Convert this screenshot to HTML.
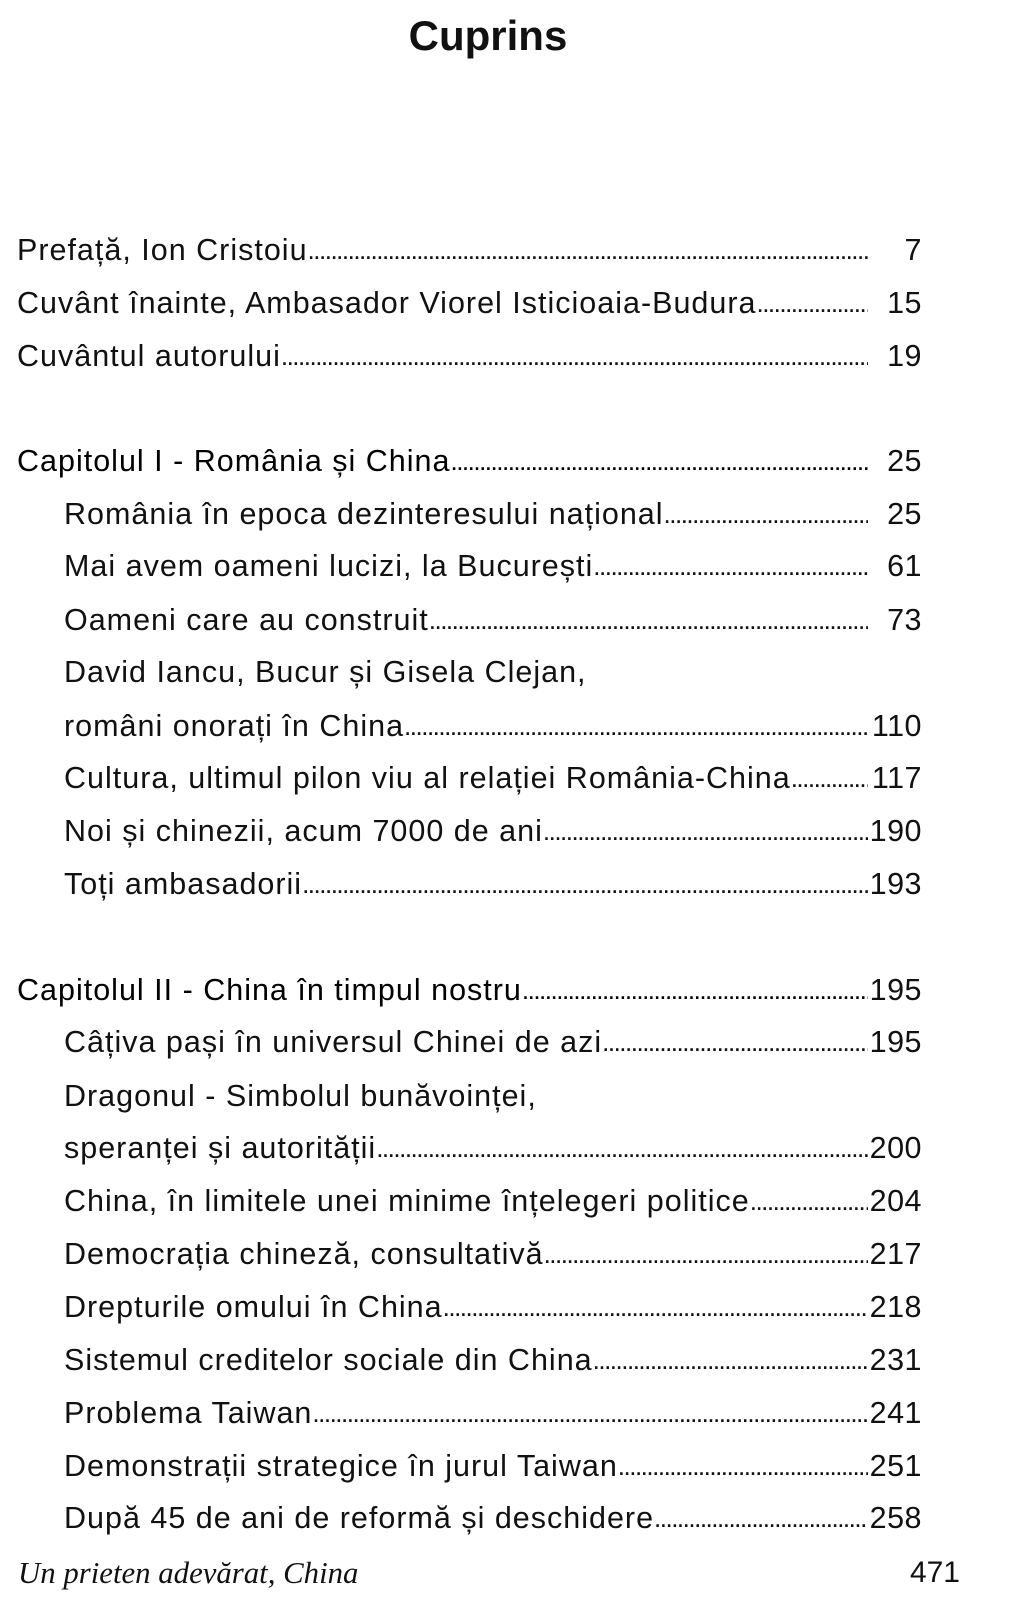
<!DOCTYPE html>
<html><head><meta charset="utf-8"><style>
body{margin:0;width:1023px;height:1600px;background:#fff;position:relative;overflow:hidden;font-family:"Liberation Sans",sans-serif;color:#111}
.t{position:absolute;top:12px;left:0;width:976px;text-align:center;font-weight:bold;font-size:42px}
.r{position:absolute;height:40px;line-height:40px;font-size:30.5px;display:flex;white-space:nowrap}
.r>span:first-child{letter-spacing:1px}
.r .d{flex:1;overflow:hidden;letter-spacing:-1.5px;font-size:26px}
.n{position:absolute;right:101px;height:40px;line-height:40px;font-size:30.5px;letter-spacing:0.5px}
.c{color:#000}
.f{position:absolute;top:1556px;left:18px;font-family:"Liberation Serif",serif;font-style:italic;font-size:30.8px}
.p{position:absolute;top:1556px;right:63px;font-size:30px}
</style></head><body>
<div class="t">Cuprins</div>
<div id="x"></div>
<div class="f">Un prieten adevărat, China</div>
<div class="p">471</div>
<script>
var D=".".repeat(200);
var rows=[
[252,17,"Prefață, Ion Cristoiu","7"],
[305,17,"Cuvânt înainte, Ambasador Viorel Isticioaia-Budura","15"],
[358,17,"Cuvântul autorului","19"],
[463,17,"Capitolul I - România și China","25",1],
[516,64,"România în epoca dezinteresului național","25"],
[568,64,"Mai avem oameni lucizi, la București ","61"],
[622,64,"Oameni care au construit","73"],
[674,64,"David Iancu, Bucur și Gisela Clejan,",""],
[728,64,"români onorați în China","110"],
[780,64,"Cultura, ultimul pilon viu al relației România-China","117"],
[833,64,"Noi și chinezii, acum 7000 de ani ","190"],
[886,64,"Toți ambasadorii","193"],
[992,17,"Capitolul II - China în timpul nostru","195",1],
[1044,64,"Câțiva pași în universul Chinei de azi","195"],
[1098,64,"Dragonul - Simbolul bunăvoinței,",""],
[1150,64,"speranței și autorității ","200"],
[1203,64,"China, în limitele unei minime înțelegeri politice ","204"],
[1256,64,"Democrația chineză, consultativă ","217"],
[1309,64,"Drepturile omului în China ","218"],
[1362,64,"Sistemul creditelor sociale din China ","231"],
[1415,64,"Problema Taiwan ","241"],
[1468,64,"Demonstrații strategice în jurul Taiwan ","251"],
[1520,64,"După 45 de ani de reformă și deschidere ","258"]];
var h="";
rows.forEach(function(r){
 var top=r[0]-22;
 if(r[3]===""){h+='<div class="r'+(r[4]?' c':'')+'" style="top:'+top+'px;left:'+r[1]+'px"><span>'+r[2]+'</span></div>';return;}
 var w=868-r[1];
 h+='<div class="r'+(r[4]?' c':'')+'" style="top:'+top+'px;left:'+r[1]+'px;width:'+w+'px"><span>'+r[2]+'</span><span class="d">'+D+'</span></div>';
 h+='<div class="n" style="top:'+top+'px">'+r[3]+'</div>';
});
document.getElementById("x").innerHTML=h;
</script>
</body></html>
